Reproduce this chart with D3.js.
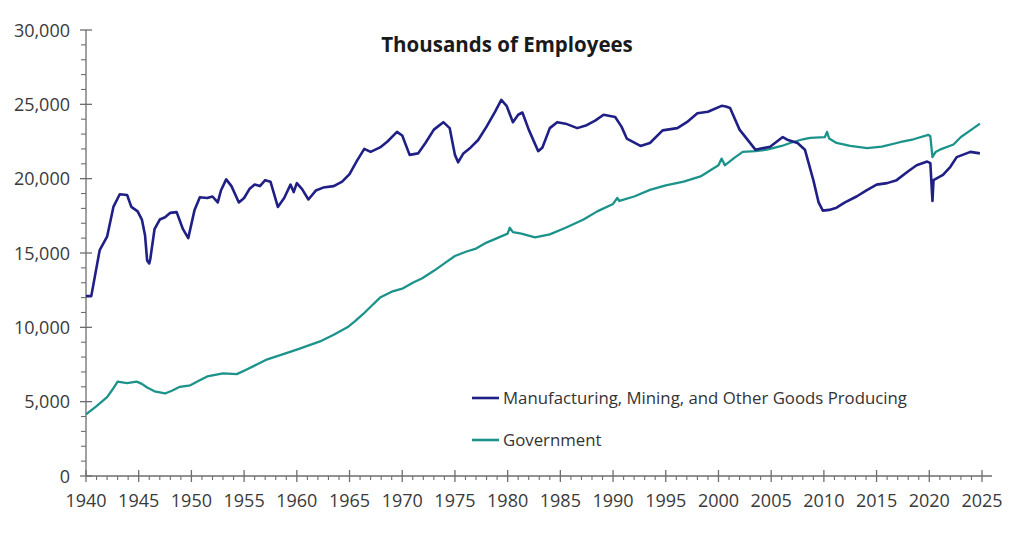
<!DOCTYPE html>
<html><head><meta charset="utf-8">
<script src="https://cdn.jsdelivr.net/npm/d3@7"></script>
<style>html,body{margin:0;padding:0;background:#fff;}svg{display:block;}</style>
</head><body>
<svg id="c" width="1011" height="533"></svg>
<script>
const title = "Thousands of Employees";
const seriesNames = ["Manufacturing, Mining, and Other Goods Producing", "Government"];
const seriesColors = ["#1f1f86", "#1c938a"];
const xTickLabels = [1940,1945,1950,1955,1960,1965,1970,1975,1980,1985,1990,1995,2000,2005,2010,2015,2020,2025];
const yTickLabels = [0,5000,10000,15000,20000,25000,30000];

const mfgYears = [1940.0,1940.5,1941.3,1942.0,1942.6,1943.2,1943.9,1944.3,1944.9,1945.3,1945.6,1945.8,1946.0,1946.1,1946.5,1947.0,1947.5,1948.0,1948.6,1949.2,1949.7,1950.3,1950.8,1951.5,1952.0,1952.5,1952.8,1953.3,1953.8,1954.5,1955.0,1955.5,1956.0,1956.5,1957.0,1957.5,1958.2,1958.8,1959.4,1959.7,1960.0,1960.5,1961.1,1961.8,1962.5,1963.5,1964.3,1965.0,1965.7,1966.4,1967.0,1967.9,1968.6,1969.5,1970.0,1970.7,1971.5,1972.2,1973.0,1973.9,1974.5,1975.0,1975.3,1975.8,1976.5,1977.2,1978.0,1978.8,1979.4,1979.9,1980.5,1981.0,1981.4,1982.0,1982.9,1983.3,1984.0,1984.7,1985.5,1986.6,1987.5,1988.3,1989.1,1990.2,1990.8,1991.3,1992.6,1993.5,1994.7,1996.1,1997.0,1998.0,1999.0,2000.3,2000.7,2001.1,2002.0,2003.5,2004.9,2006.1,2006.6,2007.5,2008.2,2009.0,2009.5,2009.9,2010.5,2011.2,2012.0,2013.1,2014.0,2015.0,2016.0,2016.9,2018.0,2018.8,2019.8,2020.1,2020.3,2020.4,2021.3,2022.0,2022.6,2023.9,2024.8];
const mfgValues = [12100,12100,15200,16100,18100,18950,18900,18100,17800,17250,16200,14500,14300,14600,16600,17250,17400,17700,17750,16600,16000,17900,18750,18700,18800,18400,19200,19950,19500,18400,18700,19300,19600,19500,19900,19800,18100,18700,19600,19100,19700,19300,18600,19200,19400,19500,19800,20300,21200,22000,21800,22100,22500,23150,22900,21600,21700,22400,23300,23800,23400,21600,21100,21700,22100,22600,23500,24500,25300,24900,23800,24300,24450,23300,21850,22100,23400,23800,23700,23400,23600,23900,24300,24150,23500,22700,22200,22400,23250,23400,23800,24400,24500,24900,24850,24750,23300,21950,22150,22800,22600,22400,21950,19900,18400,17850,17900,18050,18400,18800,19200,19600,19700,19900,20500,20900,21150,21050,18500,19900,20250,20800,21450,21800,21700];

const govYears = [1940.0,1941.0,1942.0,1942.5,1943.0,1943.9,1944.8,1945.3,1945.8,1946.5,1947.5,1948.2,1948.9,1949.9,1950.7,1951.5,1953.0,1954.3,1955.2,1956.2,1957.2,1958.5,1960.0,1961.0,1962.2,1963.5,1964.8,1965.5,1966.3,1967.1,1967.9,1969.0,1970.0,1971.0,1971.9,1973.0,1974.0,1975.0,1976.1,1977.0,1978.0,1979.0,1980.0,1980.2,1980.5,1981.3,1982.6,1984.0,1985.5,1987.2,1988.5,1990.0,1990.4,1990.6,1992.0,1993.5,1995.0,1996.7,1998.3,1999.2,2000.0,2000.3,2000.6,2001.5,2002.3,2003.5,2004.6,2006.0,2006.8,2008.0,2008.7,2010.1,2010.3,2010.5,2011.2,2012.5,2014.1,2015.5,2017.2,2018.5,2019.9,2020.1,2020.3,2020.6,2021.0,2022.3,2023.0,2024.0,2024.8];
const govValues = [4150,4700,5300,5800,6350,6250,6350,6200,5950,5700,5550,5750,6000,6100,6400,6700,6900,6850,7150,7500,7850,8150,8500,8750,9050,9500,10000,10400,10900,11450,12000,12400,12600,13000,13300,13800,14300,14800,15100,15300,15700,16000,16300,16700,16400,16300,16050,16250,16700,17250,17800,18300,18700,18500,18800,19250,19550,19800,20150,20550,20900,21350,20900,21400,21800,21850,21950,22200,22400,22650,22750,22800,23150,22700,22400,22200,22050,22150,22450,22650,22950,22850,21450,21800,21950,22300,22800,23300,23700];

const font = "'Open Sans', Lato, sans-serif";
const textColor = "#3a3a3a";
const axisColor = "#6e6e6e";

const svg = d3.select("#c");
const x = d3.scaleLinear().domain([1940, 2025]).range([86, 982]);
const y = d3.scaleLinear().domain([0, 30000]).range([476, 30]);

// axes lines
svg.append("line").attr("x1", x(1940)).attr("x2", 992).attr("y1", y(0)).attr("y2", y(0))
  .attr("stroke", axisColor).attr("stroke-width", 1.3);
svg.append("line").attr("x1", x(1940)).attr("x2", x(1940)).attr("y1", y(0)).attr("y2", y(30000))
  .attr("stroke", axisColor).attr("stroke-width", 1.3);

// x minor ticks (each year)
const yearTicks = d3.range(1940, 2026);
svg.append("g").selectAll("line").data(yearTicks.filter(d => d % 5 !== 0)).join("line")
  .attr("x1", d => x(d)).attr("x2", d => x(d)).attr("y1", y(0)).attr("y2", y(0) + 4)
  .attr("stroke", axisColor).attr("stroke-width", 1.1);
svg.append("g").selectAll("line").data(xTickLabels).join("line")
  .attr("x1", d => x(d)).attr("x2", d => x(d)).attr("y1", y(0) - 6).attr("y2", y(0) + 6)
  .attr("stroke", axisColor).attr("stroke-width", 1.3);
svg.append("g").selectAll("text").data(xTickLabels).join("text")
  .attr("x", d => x(d)).attr("y", 507).attr("text-anchor", "middle")
  .attr("font-family", font).attr("font-size", 18).attr("fill", textColor).text(d => d);

// y ticks
const yMinor = d3.range(0, 30001, 1000).filter(d => d % 5000 !== 0);
svg.append("g").selectAll("line").data(yMinor).join("line")
  .attr("x1", x(1940) - 5).attr("x2", x(1940)).attr("y1", d => y(d)).attr("y2", d => y(d))
  .attr("stroke", axisColor).attr("stroke-width", 1.1);
svg.append("g").selectAll("line").data(yTickLabels).join("line")
  .attr("x1", x(1940) - 6).attr("x2", x(1940) + 6).attr("y1", d => y(d)).attr("y2", d => y(d))
  .attr("stroke", axisColor).attr("stroke-width", 1.3);
const fmt = d3.format(",");
svg.append("g").selectAll("text").data(yTickLabels).join("text")
  .attr("x", 70).attr("y", d => y(d) + 6.5).attr("text-anchor", "end")
  .attr("font-family", font).attr("font-size", 18).attr("fill", textColor).text(d => fmt(d));

// title
svg.append("text").attr("x", 507).attr("y", 52).attr("text-anchor", "middle")
  .attr("font-family", font).attr("font-size", 20.5).attr("font-weight", "bold").attr("fill", "#1a1a1a")
  .text(title);

// lines
const line = d3.line().x(d => x(d[0])).y(d => y(d[1])).curve(d3.curveLinear);
const mfgData = mfgYears.map((yr, i) => [yr, mfgValues[i]]);
const govData = govYears.map((yr, i) => [yr, govValues[i]]);
svg.append("path").datum(govData).attr("d", line).attr("fill", "none")
  .attr("stroke", seriesColors[1]).attr("stroke-width", 2.3).attr("stroke-linejoin", "round");
svg.append("path").datum(mfgData).attr("d", line).attr("fill", "none")
  .attr("stroke", seriesColors[0]).attr("stroke-width", 2.6).attr("stroke-linejoin", "round");

// legend
const legendY = [398, 440];
seriesNames.forEach((name, i) => {
  svg.append("line").attr("x1", 472).attr("x2", 499).attr("y1", legendY[i]).attr("y2", legendY[i])
    .attr("stroke", seriesColors[i]).attr("stroke-width", 2.6);
  svg.append("text").attr("x", 503).attr("y", legendY[i] + 6)
    .attr("font-family", font).attr("font-size", 16.8).attr("fill", "#333333").text(name);
});
</script>
</body></html>
